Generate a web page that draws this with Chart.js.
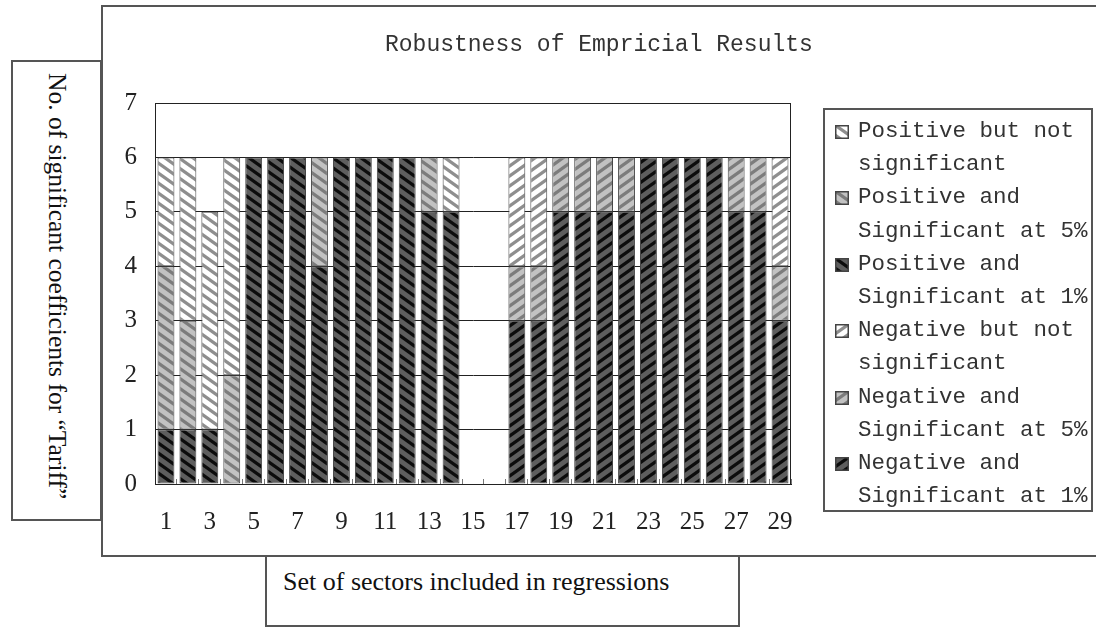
<!DOCTYPE html>
<html>
<head>
<meta charset="utf-8">
<script src="https://cdn.jsdelivr.net/npm/chart.js@4.4.1/dist/chart.umd.min.js"></script>
<style>
  body { margin: 0; background: #fff; }
  #wrap { position: relative; width: 1096px; height: 628px; overflow: hidden; background: #fff; }
  .box { position: absolute; box-sizing: border-box; border: 2px solid #555; background: #fff; }
  #ytitle { display: flex; justify-content: center; align-items: flex-start; padding-top: 11px;
    font: 25.5px "Liberation Serif", serif; color: #111; }
  #ytitle div { writing-mode: vertical-rl; }
  #xtitle { padding: 10px 0 0 16px; font: 26px "Liberation Serif", serif; color: #111; }
  #title { position: absolute; left: 385px; top: 32px; line-height: 26px;
    font: 23px "Liberation Mono", monospace; color: #333; white-space: pre; }
  #legend { padding-top: 5px; font: 22.5px "Liberation Mono", monospace; color: #333; }
  #legend .item { position: relative; padding-left: 33px; line-height: 33.2px; width: 17.5ch; }
  #legend canvas { position: absolute; left: 10px; top: 10px; }
  canvas#chart { position: absolute; left: 0; top: 0; }
</style>
</head>
<body>
<div id="wrap">
  <div class="box" style="left:101px;top:5px;width:1010px;height:552px"></div>
  <div class="box" id="ytitle" style="left:11px;top:60px;width:91px;height:461px"><div>No. of significant coefficients for “Tariff”</div></div>
  <div class="box" id="xtitle" style="left:265px;top:555px;width:475px;height:72px">Set of sectors included in regressions</div>
  <canvas id="chart" width="1096" height="628"></canvas>
  <div id="title">Robustness of Empricial Results</div>
  <div class="box" id="legend" style="left:823px;top:108px;width:270px;height:404px"></div>
</div>
<script>
// sectors 1..29
const sectors = ['1', '2', '3', '4', '5', '6', '7', '8', '9', '10', '11', '12', '13', '14', '15',
  '16', '17', '18', '19', '20', '21', '22', '23', '24', '25', '26', '27', '28', '29'];

// number of coefficients per category
const posNotSig = [2, 3, 4, 4, 0, 0, 0, 0, 0, 0, 0, 0, 0, 1, 0, 0, 0, 0, 0, 0, 0, 0, 0, 0, 0, 0, 0, 0, 0];
const pos5 = [3, 2, 0, 2, 0, 0, 0, 2, 0, 0, 0, 0, 1, 0, 0, 0, 0, 0, 0, 0, 0, 0, 0, 0, 0, 0, 0, 0, 0];
const pos1 = [1, 1, 1, 0, 6, 6, 6, 4, 6, 6, 6, 6, 5, 5, 0, 0, 0, 0, 0, 0, 0, 0, 0, 0, 0, 0, 0, 0, 0];
const negNotSig = [0, 0, 0, 0, 0, 0, 0, 0, 0, 0, 0, 0, 0, 0, 0, 0, 2, 2, 0, 0, 0, 0, 0, 0, 0, 0, 0, 0, 2];
const neg5 = [0, 0, 0, 0, 0, 0, 0, 0, 0, 0, 0, 0, 0, 0, 0, 0, 1, 1, 1, 1, 1, 1, 0, 0, 0, 0, 1, 1, 1];
const neg1 = [0, 0, 0, 0, 0, 0, 0, 0, 0, 0, 0, 0, 0, 0, 0, 0, 3, 3, 5, 5, 5, 5, 6, 6, 6, 6, 5, 5, 3];

const yTicks = [0, 1, 2, 3, 4, 5, 6, 7];

// striped fills, dir 1 = "\" , -1 = "/"
function stripes(bg, fg, dir) {
  const w = 14, h = 10;
  const c = document.createElement('canvas');
  c.width = w;
  c.height = h;
  const g = c.getContext('2d');
  g.fillStyle = bg;
  g.fillRect(0, 0, w, h);
  g.strokeStyle = fg;
  g.lineWidth = 3.2;
  for (const dy of [-h, 0, h]) {
    g.beginPath();
    if (dir > 0) {
      g.moveTo(-w, dy - h);
      g.lineTo(2 * w, dy + 2 * h);
    } else {
      g.moveTo(-w, dy + 2 * h);
      g.lineTo(2 * w, dy - h);
    }
    g.stroke();
  }
  return g.createPattern(c, 'repeat');
}

const fills = {
  pos1: stripes('#5e5e5e', '#0c0c0c', 1),
  pos5: stripes('#c2c2c2', '#7c7c7c', 1),
  posNS: stripes('#ffffff', '#8e8e8e', 1),
  neg1: stripes('#5e5e5e', '#0c0c0c', -1),
  neg5: stripes('#c2c2c2', '#7c7c7c', -1),
  negNS: stripes('#ffffff', '#8e8e8e', -1),
};

function series(label, values, fill) {
  return {
    label: label,
    data: values.map(v => (v === 0 ? null : v)),
    backgroundColor: fill,
    borderColor: '#444',
    borderWidth: 1,
    borderSkipped: false,
    barPercentage: 1,
    categoryPercentage: 0.77,
  };
}

// stacking order bottom -> top
const datasets = [
  series('Positive and Significant at 1%', pos1, fills.pos1),
  series('Positive and Significant at 5%', pos5, fills.pos5),
  series('Positive but not significant', posNotSig, fills.posNS),
  series('Negative and Significant at 1%', neg1, fills.neg1),
  series('Negative and Significant at 5%', neg5, fills.neg5),
  series('Negative but not significant', negNotSig, fills.negNS),
];

// right and top edge of the plot box
const plotFrame = {
  id: 'plotFrame',
  afterDatasetsDraw(chart) {
    const a = chart.chartArea;
    const ctx = chart.ctx;
    ctx.save();
    ctx.strokeStyle = '#222';
    ctx.lineWidth = 1;
    ctx.strokeRect(a.left + 0.5, a.top + 0.5, a.right - a.left - 1, a.bottom - a.top);
    ctx.restore();
  },
};

const tickFont = { family: '"Liberation Serif", serif', size: 25 };

const chart = new Chart(document.getElementById('chart'), {
  type: 'bar',
  data: {
    labels: sectors,
    datasets: datasets,
  },
  options: {
    responsive: false,
    animation: false,
    layout: {
      padding: { left: 101, top: 103, right: 305, bottom: 0 },
    },
    plugins: {
      legend: { display: false },
      title: { display: false },
      tooltip: { enabled: false },
    },
    scales: {
      x: {
        stacked: true,
        grid: {
          display: true,
          drawOnChartArea: false,
          drawTicks: true,
          tickLength: -5,
          color: '#777',
        },
        border: { display: true, color: '#222', width: 1 },
        ticks: {
          autoSkip: false,
          maxRotation: 0,
          padding: 28,
          color: '#222',
          font: tickFont,
          callback: (v, i) => (i % 2 === 0 ? sectors[i] : ''),
        },
        afterFit: s => {
          s.height = 144;
        },
      },
      y: {
        stacked: true,
        min: yTicks[0],
        max: yTicks[yTicks.length - 1],
        grid: { color: '#222', lineWidth: 1, drawTicks: false },
        border: { display: true, color: '#222', width: 1 },
        ticks: {
          stepSize: 1,
          padding: 18,
          color: '#222',
          font: tickFont,
        },
        afterFit: s => {
          s.width = 54;
        },
      },
    },
  },
  plugins: [plotFrame],
});

// legend box, listed top -> bottom as in the source
const legendOrder = [2, 1, 0, 5, 4, 3];
const legendBox = document.getElementById('legend');
legendOrder.forEach(i => {
  const ds = chart.data.datasets[i];
  const item = document.createElement('div');
  item.className = 'item';
  const sw = document.createElement('canvas');
  sw.width = 14;
  sw.height = 14;
  const g = sw.getContext('2d');
  g.fillStyle = ds.backgroundColor;
  g.fillRect(0, 0, 14, 14);
  g.strokeStyle = '#444';
  g.lineWidth = 1.5;
  g.strokeRect(0.75, 0.75, 12.5, 12.5);
  item.appendChild(sw);
  item.appendChild(document.createTextNode(ds.label));
  legendBox.appendChild(item);
});
</script>
</body>
</html>
